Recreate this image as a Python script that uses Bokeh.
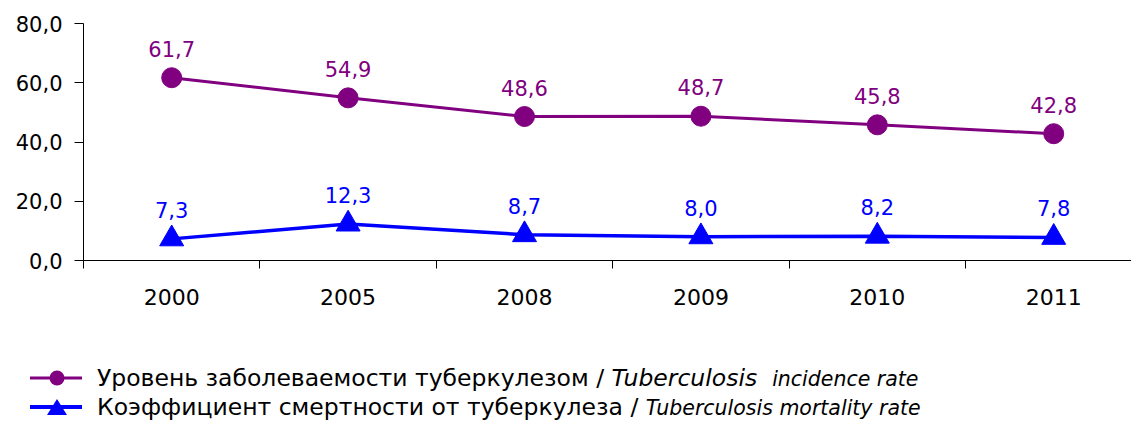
from bokeh.plotting import figure
from bokeh.models import FixedTicker, Range1d, Div
from bokeh.layouts import column
from bokeh.core.properties import value
from bokeh.embed import file_html
from bokeh.resources import INLINE

# ---- data ----
years = ["2000", "2005", "2008", "2009", "2010", "2011"]
incidence = [61.7, 54.9, 48.6, 48.7, 45.8, 42.8]
mortality = [7.3, 12.3, 8.7, 8.0, 8.2, 7.8]
y_ticks = [0, 20, 40, 60, 80]
y_tick_labels = ["0,0", "20,0", "40,0", "60,0", "80,0"]
incidence_name_ru = "Уровень заболеваемости туберкулезом /"
incidence_name_en1 = "Tuberculosis"
incidence_name_en2 = "incidence rate"
mortality_name_ru = "Коэффициент смертности от туберкулеза /"
mortality_name_en = "Tuberculosis mortality rate"

PURPLE = "#800080"
BLUE = "#0000FF"
FONT = "DejaVu Sans"
W = 1131
MAIN_H = 320
LEG_H = 101


def fmt(v):
    return f"{v:.1f}".replace(".", ",")


idx = list(range(len(years)))

p = figure(width=W, height=MAIN_H, output_backend="svg", toolbar_location=None,
           x_range=Range1d(-0.5, 5.441), y_range=Range1d(0, 80),
           min_border_left=83, min_border_right=0, min_border_top=23,
           min_border_bottom=60)
p.xgrid.visible = False
p.ygrid.visible = False
p.outline_line_color = None

# x axis: labels at category centres, tick marks at category boundaries
p.xaxis.ticker = FixedTicker(ticks=idx, minor_ticks=[i - 0.5 for i in range(len(years) + 1)])
p.xaxis.major_label_overrides = {i: y for i, y in zip(idx, years)}
p.xaxis.major_tick_out = 0
p.xaxis.major_tick_in = 0
p.xaxis.minor_tick_out = 8
p.xaxis.minor_tick_in = 0
p.xaxis.minor_tick_line_color = "black"
p.xaxis.major_label_standoff = 20
p.xaxis.major_label_text_font = FONT
p.xaxis.major_label_text_font_size = "22px"
p.xaxis.major_label_text_color = "black"
p.xaxis.axis_line_color = "black"

p.yaxis.ticker = FixedTicker(ticks=y_ticks, minor_ticks=[])
p.yaxis.major_label_overrides = {t: l for t, l in zip(y_ticks, y_tick_labels)}
p.yaxis.major_tick_out = 9
p.yaxis.major_tick_in = 0
p.yaxis.major_tick_line_color = "black"
p.yaxis.major_label_standoff = 12
p.yaxis.major_label_text_font = FONT
p.yaxis.major_label_text_font_size = "21px"
p.yaxis.major_label_text_color = "black"
p.yaxis.axis_line_color = "black"

# series
p.line(idx, incidence, line_color=PURPLE, line_width=3)
p.scatter(idx, incidence, marker="circle", size=20, fill_color=PURPLE, line_color=PURPLE)
p.text(idx, incidence, text=[fmt(v) for v in incidence], text_font=value(FONT),
       text_font_size="21px", text_color=PURPLE, text_align="center",
       text_baseline="middle", y_offset=-29)

p.line(idx, mortality, line_color=BLUE, line_width=3.5)
p.scatter(idx, mortality, marker="triangle", size=24, fill_color=BLUE, line_color=BLUE)
p.text(idx, mortality, text=[fmt(v) for v in mortality], text_font=value(FONT),
       text_font_size="21px", text_color=BLUE, text_align="center",
       text_baseline="middle", y_offset=-29)

# ---- legend: HTML block below the plot (mixed upright / italic text) ----
r1, r2 = 58, 87  # icon centre lines inside the legend block
icons = (
    f'<svg style="position:absolute;left:0;top:0" width="90" height="{LEG_H}">'
    f'<line x1="30" y1="{r1}" x2="82" y2="{r1}" stroke="{PURPLE}" stroke-width="3"/>'
    f'<circle cx="57" cy="{r1}" r="7.5" fill="{PURPLE}"/>'
    f'<line x1="30" y1="{r2}" x2="82" y2="{r2}" stroke="{BLUE}" stroke-width="4"/>'
    f'<polygon points="47,{r2 + 8} 57,{r2 - 8} 67,{r2 + 8}" fill="{BLUE}"/>'
    '</svg>'
)
row_style = ("position:absolute;left:97px;white-space:nowrap;font-size:23.5px;"
             "line-height:24px;color:black;")
legend_html = (
    f'<div style="position:relative;width:{W}px;height:{LEG_H}px;'
    f"font-family:'{FONT}';overflow:hidden;\">"
    + icons
    + f'<div style="{row_style}top:{r1 - 12}px;">{incidence_name_ru} '
      f'<i>{incidence_name_en1}</i>&nbsp; '
      f'<i style="font-size:20.5px">{incidence_name_en2}</i></div>'
    + f'<div style="{row_style}top:{r2 - 12}px;">{mortality_name_ru} '
      f'<i style="font-size:20.5px">{mortality_name_en}</i></div>'
    + '</div>'
)
legend = Div(text=legend_html, width=W, height=LEG_H, margin=(0, 0, 0, 0))

layout = column(p, legend, spacing=0)
open("out.html", "w").write(file_html(layout, INLINE))
